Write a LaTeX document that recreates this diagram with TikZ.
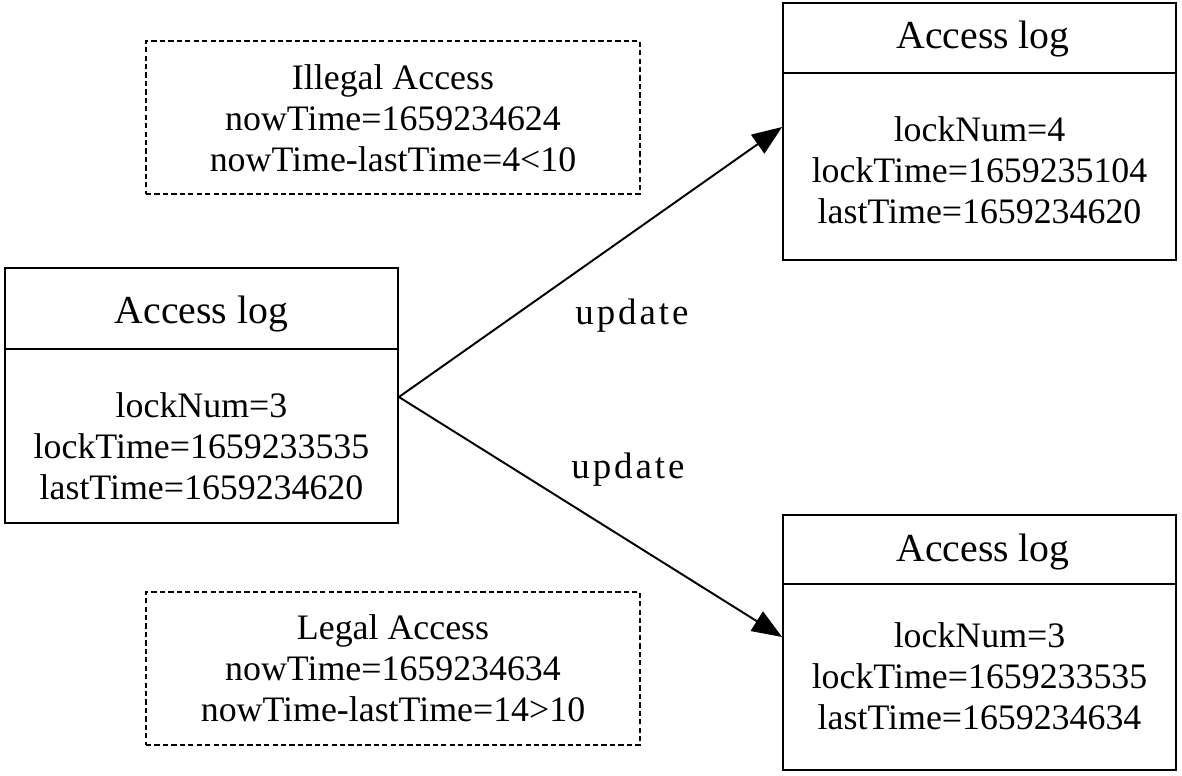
\documentclass[tikz,border=0pt]{standalone}
\usepackage{fontspec}
\setmainfont{Liberation Serif}
\newfontfamily\updfont[LetterSpace=8]{Liberation Serif}
\usetikzlibrary{arrows.meta}
\begin{document}
\begin{tikzpicture}[x=0.02cm,y=-0.02cm,
  logbox/.style={draw, line width=1.1pt, inner sep=0pt, minimum width=7.86cm},
  notebox/.style={draw, line width=0.75pt, dash pattern=on 3pt off 1.8pt, inner sep=0pt, minimum width=9.88cm, minimum height=3.06cm},
  headtxt/.style={font=\fontsize{22.6}{26}\selectfont, inner sep=0pt},
  bodytxt/.style={font=\fontsize{20.4}{23.2}\selectfont, align=center, inner sep=0pt},
  updlbl/.style={font=\updfont\fontsize{21}{24}\selectfont, inner sep=0pt},
  flow/.style={line width=1.1pt, -{Triangle[length=17pt,width=13pt]}}]
\useasboundingbox (0,0) rectangle (1182,776);
% left log box
\node[logbox, minimum height=5.1cm] (L) at (201.5,395.5) {};
\draw[line width=1.1pt] ([yshift=-1.64cm]L.north west) -- ([yshift=-1.64cm]L.north east);
\node[headtxt] (Lh) at (201.5,314) {Access log};
\node[bodytxt] (Lb) at (201.5,446) {lockNum=3\\lockTime=1659233535\\lastTime=1659234620};
% top right log box
\node[logbox, minimum height=5.14cm] (TR) at (979.5,131.5) {};
\draw[line width=1.1pt] ([yshift=-1.42cm]TR.north west) -- ([yshift=-1.42cm]TR.north east);
\node[headtxt] (TRh) at (983,39) {Access log};
\node[bodytxt] (TRb) at (979.5,170) {lockNum=4\\lockTime=1659235104\\lastTime=1659234620};
% bottom right log box
\node[logbox, minimum height=5.1cm] (BR) at (979.5,642.5) {};
\draw[line width=1.1pt] ([yshift=-1.4cm]BR.north west) -- ([yshift=-1.4cm]BR.north east);
\node[headtxt] (BRh) at (983,552) {Access log};
\node[bodytxt] (BRb) at (979.5,676) {lockNum=3\\lockTime=1659233535\\lastTime=1659234634};
% dashed notes
\node[notebox] (N1) at (393,117.5) {};
\node[bodytxt] (N1t) at (393,118) {Illegal Access\\nowTime=1659234624\\nowTime-lastTime=4<10};
\node[notebox] (N2) at (393,668.5) {};
\node[bodytxt] (N2t) at (393,668) {Legal Access\\nowTime=1659234634\\nowTime-lastTime=14>10};
% connectors
\draw[flow] ([yshift=-0.03cm]L.east) -- ([yshift=0.09cm]TR.west);
\draw[flow] ([yshift=-0.03cm]L.east) -- ([yshift=0.11cm]BR.west);
\node[updlbl] (u1) at (632,316) {update};
\node[updlbl] (u2) at (628,470) {update};
\end{tikzpicture}
\end{document}
